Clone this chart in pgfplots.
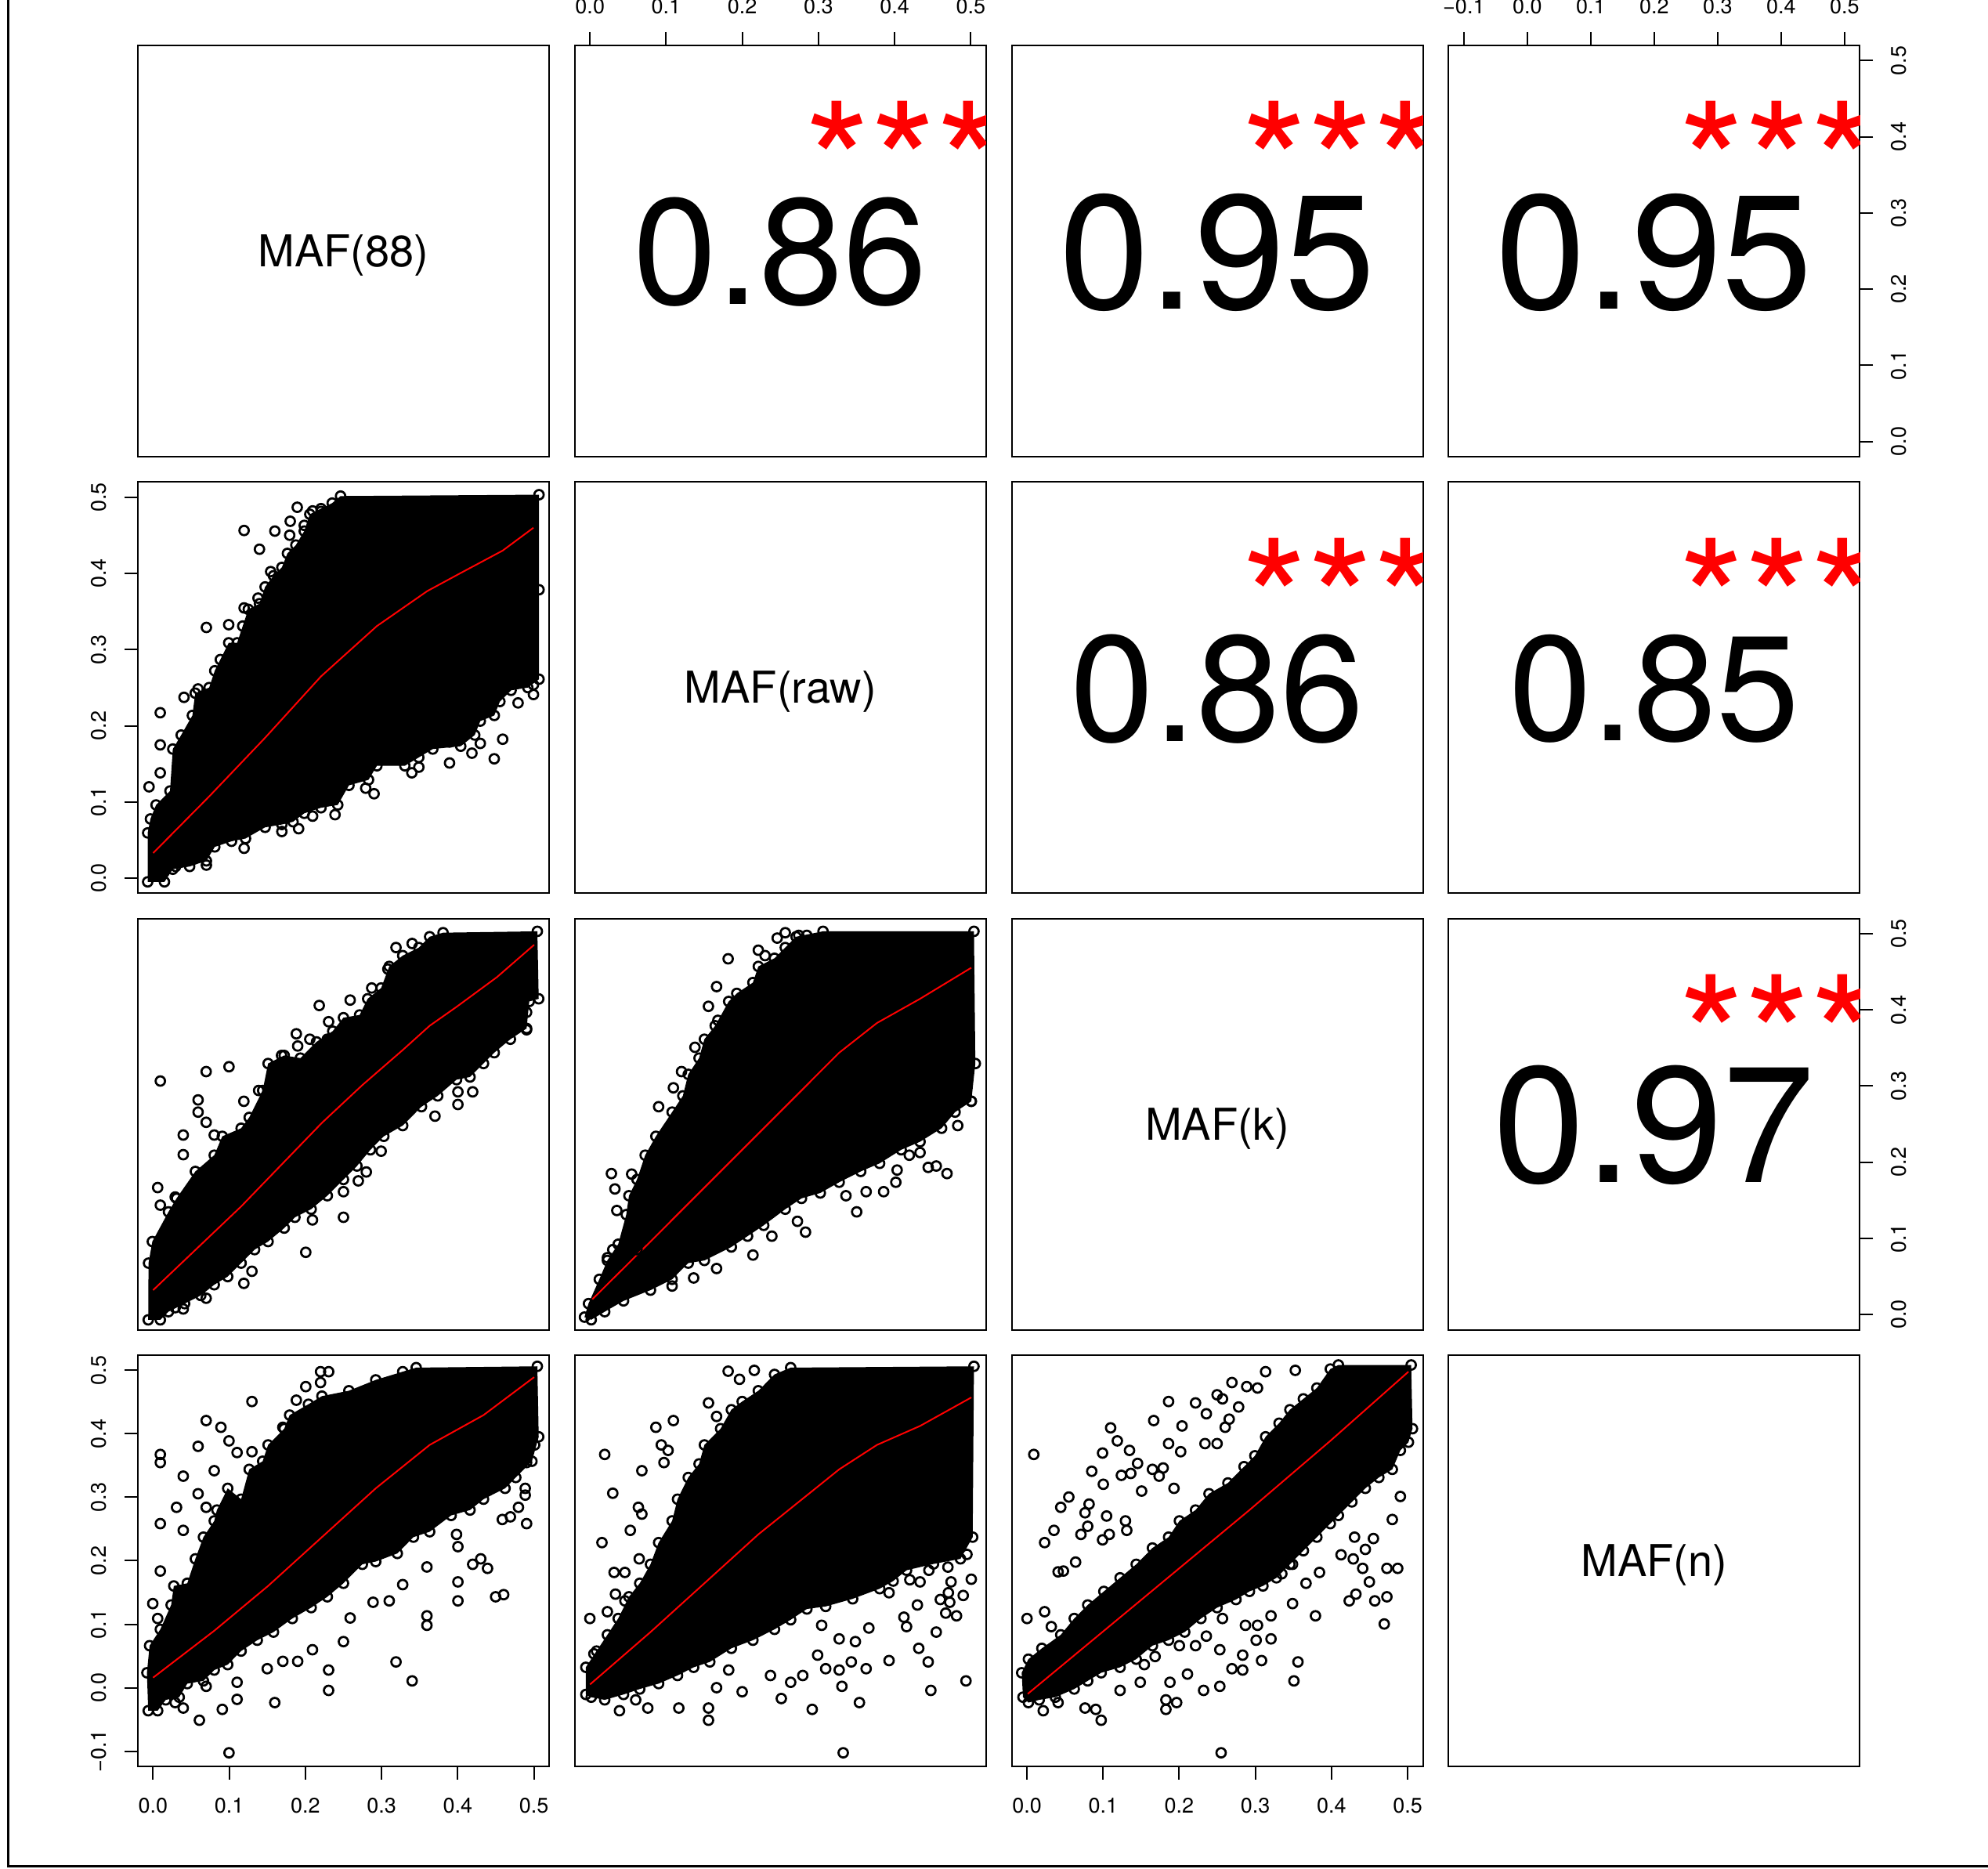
\documentclass[border=0pt]{standalone}
\usepackage{fontspec}
\setmainfont{TeX Gyre Heros}
\usepackage{pgfplots}
\usepackage{pgfplotstable}
\pgfplotsset{compat=1.18}

\newcommand{\tickfont}{\fontsize{6.75pt}{8pt}\selectfont}
\newcommand{\labfont}{\fontsize{14pt}{16pt}\selectfont}

% dense-cloud outlines (x y) of the six scatter panels
\pgfplotstableread{
x y
-0.0071 -0.005
-0.0071 0.0593
-0.0035 0.0776
0.0039 0.096
0.0222 0.1143
0.0259 0.1694
0.0369 0.1878
0.0516 0.2135
0.0553 0.2428
0.0736 0.2501
0.081 0.2722
0.0883 0.2869
0.0993 0.3089
0.1104 0.3089
0.1177 0.3309
0.125 0.3529
0.1397 0.3603
0.1471 0.3823
0.1581 0.3969
0.1691 0.4079
0.1764 0.4263
0.1875 0.4373
0.1985 0.4556
0.2058 0.4777
0.2205 0.4851
0.2352 0.4924
0.2462 0.5016
0.5068 0.5034
0.5068 0.3786
0.5068 0.2611
0.4921 0.2501
0.4701 0.2465
0.4554 0.2318
0.4481 0.2135
0.4297 0.2061
0.4224 0.1878
0.404 0.1731
0.3673 0.1694
0.3489 0.1584
0.3306 0.1474
0.2939 0.1474
0.2829 0.129
0.2572 0.1217
0.2425 0.096
0.2205 0.0923
0.1985 0.085
0.1838 0.0739
0.1691 0.0703
0.1471 0.0666
0.1214 0.0519
0.103 0.0483
0.081 0.0409
0.07 0.0226
0.048 0.0152
0.0259 0.0116
0.0149 -0.005
}\polyBA

\pgfplotstableread{
x y
-0.0064 -0.007
-0.006 0.0675
-0.001 0.0958
0.0202 0.1348
0.0308 0.1525
0.0555 0.1879
0.0803 0.2092
0.0909 0.234
0.1156 0.2446
0.1262 0.2588
0.1439 0.2942
0.151 0.3296
0.1722 0.3402
0.1934 0.3367
0.2146 0.358
0.2359 0.3721
0.25 0.3898
0.2712 0.3934
0.2818 0.4146
0.2995 0.4288
0.3101 0.4571
0.3278 0.4713
0.349 0.4819
0.3632 0.4961
0.3808 0.5014
0.5046 0.5032
0.5064 0.4146
0.494 0.4111
0.4905 0.3757
0.4692 0.3615
0.448 0.3438
0.4339 0.3296
0.4162 0.3119
0.3985 0.3084
0.3738 0.2871
0.3525 0.2729
0.3278 0.2481
0.303 0.234
0.2854 0.2163
0.2677 0.195
0.25 0.1773
0.2288 0.156
0.2076 0.1383
0.1863 0.1277
0.1722 0.1135
0.151 0.0958
0.1333 0.0852
0.1156 0.0675
0.098 0.0498
0.0803 0.0391
0.0626 0.025
0.0414 0.0143
0.0202 0.0037
0.0095 -0.007
}\polyCA

\pgfplotstableread{
x y
-0.0073 -0.0034
-0.002 0.0143
0.0122 0.0462
0.0228 0.071
0.037 0.0923
0.0476 0.1312
0.0511 0.156
0.0617 0.1773
0.0724 0.2092
0.0865 0.234
0.1078 0.2658
0.1219 0.2871
0.129 0.3154
0.1432 0.3367
0.1502 0.3615
0.1644 0.3792
0.1821 0.4111
0.1927 0.4217
0.2139 0.4359
0.221 0.4571
0.2422 0.4678
0.2564 0.4819
0.2706 0.4961
0.306 0.5032
0.5042 0.5032
0.506 0.3296
0.5007 0.28
0.4794 0.2658
0.4617 0.2446
0.4334 0.2269
0.4086 0.2163
0.3803 0.1985
0.3555 0.1879
0.3272 0.1737
0.3024 0.1596
0.2777 0.1525
0.2564 0.1383
0.2281 0.1171
0.2069 0.1029
0.1856 0.0887
0.1502 0.071
0.129 0.0675
0.1078 0.0462
0.0794 0.032
0.044 0.0179
0.0193 0.0037
0.0016 -0.0069
}\polyCB

\pgfplotstableread{
x y
-0.0064 -0.0363
-0.0081 0.0235
-0.0046 0.0662
0.0095 0.0919
0.0237 0.1303
0.0272 0.1603
0.0449 0.1645
0.0555 0.203
0.0661 0.2372
0.0803 0.2628
0.0838 0.2799
0.098 0.3141
0.1156 0.297
0.1262 0.344
0.1439 0.3568
0.151 0.3825
0.1722 0.4081
0.1793 0.4295
0.204 0.4466
0.2217 0.4594
0.2571 0.4679
0.2924 0.485
0.3278 0.4979
0.3455 0.5043
0.5046 0.5064
0.5064 0.3953
0.4975 0.3568
0.4763 0.3312
0.4622 0.3141
0.4339 0.297
0.4162 0.2799
0.3914 0.2714
0.3632 0.2457
0.3419 0.2372
0.3207 0.2115
0.2924 0.1987
0.2748 0.1944
0.25 0.1645
0.2288 0.1432
0.2076 0.1261
0.1828 0.109
0.1581 0.0876
0.1368 0.0748
0.1156 0.0577
0.098 0.0363
0.0803 0.0278
0.0661 0.0107
0.0449 0.0064
0.0343 -0.015
0.0166 -0.0192
0.006 -0.0363
}\polyDA

\pgfplotstableread{
x y
-0.0055 -0.0107
-0.0055 0.0321
0.0086 0.0577
0.0228 0.0833
0.037 0.109
0.0511 0.1432
0.0653 0.1645
0.0794 0.1944
0.0901 0.2286
0.1078 0.2628
0.1149 0.297
0.129 0.3312
0.1432 0.3526
0.1502 0.3825
0.1715 0.4081
0.1856 0.438
0.1998 0.4509
0.221 0.4679
0.2423 0.4936
0.2635 0.5043
0.5042 0.5064
0.5025 0.2372
0.4865 0.2030
0.4511 0.1950
0.4157 0.1850
0.3981 0.1680
0.3804 0.1560
0.3449 0.1400
0.3095 0.1280
0.2848 0.1240
0.2635 0.107
0.2423 0.0919
0.2139 0.0748
0.1856 0.062
0.1573 0.0406
0.1361 0.0321
0.1149 0.0192
0.0901 0.0064
0.0653 -0.0021
0.044 -0.0107
0.0193 -0.0192
0.0016 -0.015
}\polyDB

\pgfplotstableread{
x y
-0.0052 -0.015
-0.0069 0.0235
0.0019 0.0449
0.0196 0.062
0.0444 0.0833
0.0621 0.109
0.0798 0.1303
0.101 0.1517
0.1223 0.1731
0.1435 0.1944
0.1648 0.2201
0.186 0.2372
0.2002 0.2628
0.2214 0.2799
0.2391 0.3056
0.2639 0.3226
0.2851 0.3483
0.2993 0.3654
0.3134 0.3953
0.3311 0.4167
0.3453 0.438
0.363 0.4551
0.3807 0.4722
0.3984 0.5021
0.409 0.5085
0.5046 0.5085
0.5063 0.4081
0.501 0.3868
0.4904 0.3739
0.4798 0.344
0.4621 0.3312
0.4444 0.3141
0.4267 0.2927
0.409 0.2714
0.3984 0.2585
0.3807 0.2372
0.363 0.2158
0.3453 0.1944
0.3276 0.1731
0.3099 0.1603
0.2922 0.1517
0.2745 0.1389
0.2497 0.1261
0.2285 0.109
0.2072 0.0877
0.186 0.0748
0.1648 0.0662
0.1435 0.0449
0.1223 0.0321
0.0975 0.0235
0.0798 0.0107
0.0621 -0.0021
0.0373 -0.015
0.0161 -0.0192
0.0019 -0.0235
}\polyDC

\pgfplotsset{
 panel/.style={scale only axis, width=131.25pt, height=131.25pt, anchor=south west,
   axis line style={line width=0.5pt}, tick align=outside, major tick length=4.25pt,
   major tick style={line width=0.5pt, black}, xtick=\empty, ytick=\empty,
   tick label style={font=\tickfont},
   xticklabel style={anchor=center}, yticklabel style={anchor=center, rotate=90},
   xticklabel shift=8.3pt, yticklabel shift=8.1pt,
   clip mode=global},
 vAx/.style={xmin=-0.02,xmax=0.52},
 vAy/.style={ymin=-0.02,ymax=0.52},
 vNx/.style={xmin=-0.124,xmax=0.524},
 vNy/.style={ymin=-0.124,ymax=0.524},
 xtA/.style={xtick={0,0.1,0.2,0.3,0.4,0.5}, xticklabels={0.0,0.1,0.2,0.3,0.4,0.5}},
 xtN/.style={xtick={-0.1,0,0.1,0.2,0.3,0.4,0.5}, xticklabels={−0.1,0.0,0.1,0.2,0.3,0.4,0.5}},
 ytA/.style={ytick={0,0.1,0.2,0.3,0.4,0.5}, yticklabels={0.0,0.1,0.2,0.3,0.4,0.5}},
 ytN/.style={ytick={-0.1,0,0.1,0.2,0.3,0.4,0.5}, yticklabels={−0.1,0.0,0.1,0.2,0.3,0.4,0.5}},
 blob/.style={fill=black, draw=none},
 outl/.style={only marks, mark=o, mark size=1.5pt, black, mark options={line width=0.68pt, fill=none}},
 loess/.style={red, line width=0.5pt, mark=none},
}
\tikzset{
 diag/.style={anchor=base, inner sep=0pt, font=\labfont, yshift=-5pt},
 stars/.style={anchor=base, inner sep=0pt, text=red, font={\fontsize{53.95pt}{60pt}\selectfont}, yshift=-31pt},
}

\begin{document}
\begin{tikzpicture}
\useasboundingbox (0,0) rectangle (634.5pt,596.5pt);

% ---------------- Row 1 ----------------
\begin{axis}[panel, vAx, vAy, at={(44pt,450.75pt)}]
\node[diag] at (rel axis cs:0.5,0.5) {MAF(88)};
\end{axis}

\begin{axis}[panel, vAx, vAy, at={(183.45pt,450.75pt)}, xtA, xtick pos=right, xticklabel pos=right]
\node[anchor=base, inner sep=0pt, font={\fontsize{48.15pt}{56pt}\selectfont}, yshift=-17.1pt] at (rel axis cs:0.5,0.5) {0.86};
\node[stars] at (rel axis cs:0.8,0.8) {***};
\end{axis}

\begin{axis}[panel, vAx, vAy, at={(322.9pt,450.75pt)}]
\node[anchor=base, inner sep=0pt, font={\fontsize{51.9pt}{60pt}\selectfont}, yshift=-18.4pt] at (rel axis cs:0.5,0.5) {0.95};
\node[stars] at (rel axis cs:0.8,0.8) {***};
\end{axis}

\begin{axis}[panel, vNx, vAy, at={(462.35pt,450.75pt)}, xtN, xtick pos=right, xticklabel pos=right, ytA, ytick pos=right, yticklabel pos=right]
\node[anchor=base, inner sep=0pt, font={\fontsize{51.9pt}{60pt}\selectfont}, yshift=-18.4pt] at (rel axis cs:0.5,0.5) {0.95};
\node[stars] at (rel axis cs:0.8,0.8) {***};
\end{axis}

% ---------------- Row 2 ----------------
\begin{axis}[panel, vAx, vAy, at={(44pt,311.4pt)}, ytA, ytick pos=left, yticklabel pos=left]
\addplot[blob] table {\polyBA};
\addplot[outl] table {\polyBA};
\addplot[outl] coordinates {(0.1195,0.4564) (0.1599,0.4556) (0.1397,0.4318) (0.1893,0.4869) (0.2095,0.4821) (0.2205,0.4814) (0.1801,0.4685) (0.1985,0.4631) (0.1794,0.4502) (0.07,0.3291) (0.0993,0.3327) (0.059,0.2483) (0.0406,0.2373) (0.0094,0.2171) (0.0094,0.1749) (0.0094,0.1382) (-0.0053,0.1198) (0.1195,0.3547) (0.1378,0.3676) (0.1544,0.4024) (0.4995,0.2538) (0.4995,0.2410) (0.4793,0.2300) (0.4591,0.1823) (0.448,0.1566) (0.4187,0.164) (0.3893,0.1511) (0.3398,0.1382) (0.349,0.1456) (0.2902,0.1107) (0.2792,0.1180) (0.2389,0.0832) (0.2095,0.0813) (0.1911,0.0648) (0.1691,0.0611) (0.1195,0.0391) (0.07,0.017) (0.0296,0.0152) (0.4297,0.1768) (0.3893,0.1786)};
\addplot[loess] coordinates {(0.0002,0.0329) (0.0736,0.1071) (0.147,0.1841) (0.2205,0.2648) (0.2939,0.3309) (0.36,0.3768) (0.404,0.4006) (0.4591,0.43) (0.4995,0.46)};
\end{axis}

\begin{axis}[panel, vAx, vAy, at={(183.45pt,311.4pt)}]
\node[diag] at (rel axis cs:0.5,0.5) {MAF(raw)};
\end{axis}

\begin{axis}[panel, vAx, vAy, at={(322.9pt,311.4pt)}]
\node[anchor=base, inner sep=0pt, font={\fontsize{48.15pt}{56pt}\selectfont}, yshift=-17.1pt] at (rel axis cs:0.5,0.5) {0.86};
\node[stars] at (rel axis cs:0.8,0.8) {***};
\end{axis}

\begin{axis}[panel, vNx, vAy, at={(462.35pt,311.4pt)}]
\node[anchor=base, inner sep=0pt, font={\fontsize{47.7pt}{56pt}\selectfont}, yshift=-16.9pt] at (rel axis cs:0.5,0.5) {0.85};
\node[stars] at (rel axis cs:0.8,0.8) {***};
\end{axis}

% ---------------- Row 3 ----------------
\begin{axis}[panel, vAx, vAy, at={(44pt,172.1pt)}]
\addplot[blob] table {\polyCA};
\addplot[outl] table {\polyCA};
\addplot[outl] coordinates {(0.0095,0.3066) (0.0697,0.319) (0.0997,0.3254) (0.2182,0.4058) (0.2588,0.4129) (0.2305,0.3845) (0.319,0.4819) (0.3402,0.4872) (0.0396,0.2357) (0.0396,0.2099) (0.0591,0.2818) (0.0591,0.2658) (0.0697,0.2524) (0.006,0.1667) (0.0095,0.1436) (0.029,0.1543) (0.25,0.1277) (0.2093,0.1242) (0.2005,0.0817) (0.2695,0.1755) (0.28,0.1872) (0.3702,0.2605) (0.4003,0.2758) (0.4003,0.2924) (0.4197,0.2924) (0.4905,0.3739) (0.4905,0.3969) (0.1192,0.28) (0.1386,0.2942) (0.0803,0.2357) (0.0697,0.0214) (0.0396,0.0073) (0.029,0.009) (0.1192,0.0409) (0.1298,0.0568) (0.25,0.1613) (0.2995,0.2145) (0.1881,0.3686) (0.1899,0.3526) (0.2058,0.3615) (0.2288,0.3615) (0.2871,0.4288) (0.3083,0.4536) (0.1687,0.3402)};
\addplot[loess] coordinates {(0,0.032) (0.1156,0.1419) (0.2217,0.2517) (0.2748,0.3013) (0.3278,0.3473) (0.3632,0.3792) (0.3985,0.404) (0.4515,0.443) (0.5004,0.4855)};
\end{axis}

\begin{axis}[panel, vAx, vAy, at={(183.45pt,172.1pt)}]
\addplot[blob] table {\polyCB};
\addplot[outl] table {\polyCB};
\addplot[outl] coordinates {(0.1814,0.4671) (0.1662,0.4306) (0.1555,0.4047) (0.221,0.4784) (0.2299,0.4713) (0.2458,0.4943) (0.2564,0.5014) (0.2741,0.4979) (0.2847,0.4979) (0.0281,0.1851) (0.0327,0.1649) (0.0352,0.1366) (0.0547,0.1844) (0.0901,0.2729) (0.1095,0.2977) (0.1202,0.319) (0.1378,0.3509) (0.1679,0.3863) (0.4688,0.1851) (0.4547,0.195) (0.4441,0.1932) (0.4334,0.2127) (0.4193,0.2092) (0.4829,0.2481) (0.5007,0.28) (0.4033,0.1897) (0.4016,0.1737) (0.3856,0.1613) (0.3502,0.1348) (0.3626,0.1613) (0.3361,0.156) (0.283,0.1082) (0.2724,0.1224) (0.2388,0.1029) (0.214,0.0781) (0.1662,0.0604) (0.1361,0.048) (0.1078,0.0374) (0.0617,0.0852) (0.0299,0.0852) (0.0228,0.0746)};
\addplot[loess] coordinates {(0.0016,0.0186) (0.0794,0.0958) (0.1502,0.1667) (0.221,0.2375) (0.2812,0.2977) (0.3272,0.3438) (0.3768,0.3828) (0.4334,0.4146) (0.5007,0.4554)};
\end{axis}

\begin{axis}[panel, vAx, vAy, at={(322.9pt,172.1pt)}]
\node[diag] at (rel axis cs:0.5,0.5) {MAF(k)};
\end{axis}

\begin{axis}[panel, vNx, vAy, at={(462.35pt,172.1pt)}, ytA, ytick pos=right, yticklabel pos=right]
\node[anchor=base, inner sep=0pt, font={\fontsize{52.7pt}{60pt}\selectfont}, yshift=-18.7pt] at (rel axis cs:0.5,0.5) {0.97};
\node[stars] at (rel axis cs:0.8,0.8) {***};
\end{axis}

% ---------------- Row 4 ----------------
\begin{axis}[panel, vAx, vNy, at={(44pt,32.75pt)}, xtA, xtick pos=left, xticklabel pos=left, ytN, ytick pos=left, yticklabel pos=left]
\addplot[blob] table {\polyDA};
\addplot[outl] table {\polyDA};
\addplot[outl] coordinates {(0.1298,0.4509) (0.0697,0.4209) (0.0891,0.4103) (0.0997,0.3889) (0.0591,0.3803) (0.0095,0.3675) (0.0095,0.3547) (0.0396,0.3333) (0.0803,0.3419) (0.1103,0.3705) (0.1298,0.3718) (0.0591,0.3056) (0.0308,0.2842) (0.0697,0.2842) (0.0095,0.2585) (0.0396,0.2479) (0.0095,0.1838) (-0.0004,0.1325) (0.006,0.109) (0.2005,0.4744) (0.2199,0.4979) (0.2306,0.4979) (0.2199,0.4808) (0.1881,0.453) (0.1704,0.4103) (0.5011,0.3825) (0.4905,0.3547) (0.4887,0.3141) (0.4887,0.3034) (0.4905,0.2585) (0.4798,0.2842) (0.4692,0.2692) (0.4586,0.265) (0.4498,0.1432) (0.4604,0.1466) (0.4392,0.188) (0.4303,0.203) (0.4197,0.1944) (0.3985,0.2415) (0.4003,0.2222) (0.4003,0.1667) (0.4003,0.1368) (0.3596,0.1902) (0.3596,0.1132) (0.3596,0.0983) (0.3278,0.1624) (0.3101,0.1368) (0.2889,0.1346) (0.319,0.0406) (0.3402,0.0107) (0.2588,0.1098) (0.25,0.0726) (0.2093,0.0598) (0.2305,0.0278) (0.2305,-0.0043) (0.1899,0.0415) (0.1704,0.0415) (0.1499,0.0299) (0.1598,-0.0235) (0.1103,0.0085) (0.1103,-0.0184) (0.0909,-0.0342) (0.0608,-0.0513) (0.0997,-0.1026) (0.0697,0.0021) (0.0396,-0.0321) (0.029,-0.0235)};
\addplot[loess] coordinates {(0,0.0158) (0.0803,0.0897) (0.151,0.1603) (0.2217,0.2372) (0.2924,0.3141) (0.3632,0.3825) (0.4339,0.4295) (0.5004,0.4893)};
\end{axis}

\begin{axis}[panel, vAx, vNy, at={(183.45pt,32.75pt)}]
\addplot[blob] table {\polyDB};
\addplot[outl] table {\polyDB};
\addplot[outl] coordinates {(0.1814,0.4987) (0.1963,0.4859) (0.2157,0.5) (0.1556,0.4487) (0.1662,0.4274) (0.1095,0.4209) (0.0865,0.4103) (0.0936,0.3825) (0.1025,0.3739) (0.0971,0.3547) (0.0681,0.3419) (0.0193,0.3675) (0.0299,0.3064) (0.0635,0.2842) (0.0681,0.2735) (0.0529,0.2479) (0.0157,0.2286) (0.0646,0.203) (0.0316,0.1816) (0.0458,0.1816) (0.0334,0.1474) (0.0458,0.1368) (0.0228,0.1197) (-0.0002,0.109) (0.0051,0.0534) (0.5007,0.1709) (0.4901,0.1453) (0.4741,0.1667) (0.4706,0.1496) (0.4724,0.1346) (0.4813,0.1132) (0.4671,0.1175) (0.46,0.1389) (0.4547,0.0876) (0.4299,0.1303) (0.4334,0.1667) (0.4157,0.0962) (0.4122,0.1111) (0.4317,0.062) (0.4441,0.0406) (0.4937,0.0107) (0.4476,-0.0043) (0.3927,0.0427) (0.3927,0.1496) (0.3662,0.094) (0.3626,0.0299) (0.3538,-0.0235) (0.3485,0.0726) (0.3272,0.0769) (0.3431,0.0406) (0.3272,0.0278) (0.3308,0.0021) (0.3325,-0.1026) (0.3095,0.0299) (0.2918,-0.0342) (0.2794,0.0192) (0.2989,0.0513) (0.3042,0.0983) (0.2512,-0.0171) (0.2635,0.0085) (0.237,0.0192) (0.1998,-0.0064) (0.1821,0.0278) (0.1662,0.0) (0.1556,-0.0321) (0.1556,-0.0513) (0.1166,-0.0321) (0.0759,-0.0321) (0.0387,-0.0363) (0.06,-0.0192) (0.4950,0.2100) (0.4700,0.1900) (0.4450,0.1850) (0.4200,0.1700)};
\addplot[loess] coordinates {(0,0.0051) (0.0794,0.0876) (0.1502,0.1645) (0.221,0.2415) (0.2918,0.3098) (0.3272,0.344) (0.3768,0.3825) (0.4334,0.4124) (0.5007,0.4573)};
\end{axis}

\begin{axis}[panel, vAx, vNy, at={(322.9pt,32.75pt)}, xtA, xtick pos=left, xticklabel pos=left]
\addplot[blob] table {\polyDC};
\addplot[outl] table {\polyDC};
\addplot[outl] coordinates {(0.009,0.3675) (0.0232,0.2286) (0.0355,0.2479) (0.0444,0.2842) (0.055,0.3004) (0.0763,0.2756) (0.0816,0.2893) (0.0798,0.2543) (0.0709,0.2415) (0.0639,0.1979) (0.0409,0.1825) (0.0479,0.1838) (0.0851,0.341) (0.1099,0.4094) (0.1187,0.3889) (0.0993,0.3697) (0.1347,0.3739) (0.1453,0.3534) (0.1003,0.3205) (0.124,0.3346) (0.1364,0.3376) (0.1046,0.2705) (0.0993,0.2329) (0.1081,0.2415) (0.1294,0.2628) (0.1311,0.2479) (0.1665,0.4209) (0.186,0.4509) (0.2037,0.4124) (0.2214,0.4487) (0.2356,0.4316) (0.186,0.3846) (0.2019,0.3718) (0.1506,0.3098) (0.1648,0.344) (0.1736,0.3333) (0.1789,0.3462) (0.1931,0.3141) (0.2497,0.4615) (0.2568,0.4551) (0.2692,0.4808) (0.2886,0.4744) (0.3028,0.4722) (0.3134,0.4979) (0.3524,0.5) (0.2338,0.3846) (0.2497,0.3846) (0.2603,0.4103) (0.2656,0.4231) (0.278,0.4423) (0.0001,0.109) (0.0232,0.1197) (0.032,0.0962) (0.4904,0.3013) (0.4798,0.265) (0.4727,0.188) (0.4869,0.188) (0.4727,0.1432) (0.4568,0.1368) (0.4692,0.1004) (0.4497,0.1667) (0.4409,0.188) (0.432,0.1474) (0.4232,0.1368) (0.4125,0.2094) (0.4444,0.2179) (0.455,0.235) (0.4302,0.2372) (0.4285,0.2029) (0.3789,0.1132) (0.3488,0.1325) (0.3205,0.1132) (0.3842,0.1816) (0.3665,0.1645) (0.3559,0.0406) (0.3506,0.0107) (0.3205,0.0769) (0.3081,0.0427) (0.301,0.0748) (0.2869,0.0983) (0.2833,0.0513) (0.2833,0.0278) (0.2692,0.0299) (0.2533,0.0021) (0.232,-0.0043) (0.2108,0.0214) (0.1878,0.0085) (0.1825,-0.0192) (0.1825,-0.0342) (0.1966,-0.0235) (0.1488,0.0085) (0.1223,-0.0043) (0.0975,-0.0513) (0.0904,-0.0342) (0.0763,-0.0321) (0.0214,-0.0363) (0.0409,-0.0235) (0.255,-0.1026) (0.2533,0.0598) (0.3028,0.0983) (0.3347,0.1795) (0.3488,0.1944) (0.2568,0.109) (0.2356,0.0812) (0.2214,0.0662) (0.2002,0.0662) (0.1683,0.0491) (0.1541,0.0363)};
\addplot[loess] coordinates {(0.0001,-0.0107) (0.1506,0.1389) (0.2922,0.2799) (0.3984,0.3889) (0.501,0.4979)};
\end{axis}

\begin{axis}[panel, vNx, vNy, at={(462.35pt,32.75pt)}]
\node[diag] at (rel axis cs:0.5,0.5) {MAF(n)};
\end{axis}

% outer page frame (left and bottom edges)
\draw[line width=0.75pt] (2.55pt,596.5pt) -- (2.55pt,0.8pt) -- (634.5pt,0.8pt);
\end{tikzpicture}
\end{document}
